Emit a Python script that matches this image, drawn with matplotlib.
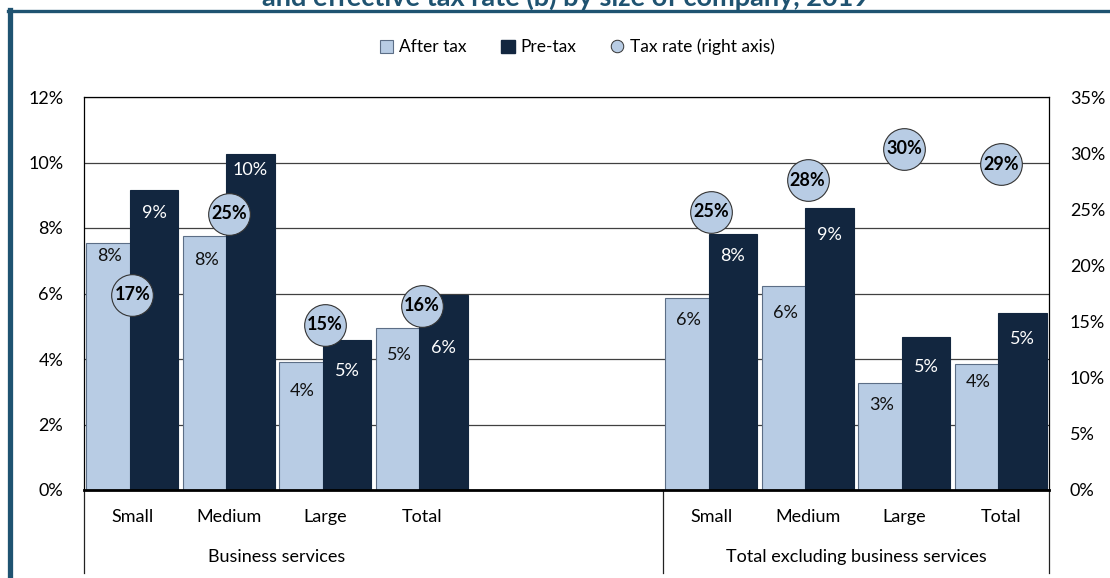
import matplotlib.pyplot as plt
import numpy as np
from matplotlib.lines import Line2D
from matplotlib.patches import Patch
from matplotlib.transforms import blended_transform_factory

plt.rcParams["font.family"] = ["Lato", "DejaVu Sans"]

# values
sizes = ["Small", "Medium", "Large", "Total"]
groups = ["Business services", "Total excluding business services"]
after_tax = [7.55, 7.75, 3.92, 4.96, 5.87, 6.24, 3.26, 3.84]
pre_tax = [9.15, 10.26, 4.58, 5.94, 7.81, 8.62, 4.67, 5.40]
tax_rate = [17.4, 24.6, 14.7, 16.4, 24.8, 27.6, 30.4, 29.0]

# label placement (pixels below bar top), picked to dodge the circles
after_offsets = [13, 24, 29, 27, 22, 27, 22, 18]
pre_offsets = [23, 16, 31, 53, 22, 27, 30, 26]

light = "#B8CCE4"
navy = "#12263F"
teal = "#1F5371"

W, H = 1110, 578
fig = plt.figure(figsize=(W / 100, H / 100), dpi=100)
ax = fig.add_axes([84 / W, 1 - 490 / H, (1049 - 84) / W, (490 - 97) / H])

# two groups of four slots with a two-slot gap between them
x = np.array([g * 6 + i for g in range(len(groups)) for i in range(len(sizes))])
bw = 0.505
ax.bar(x - 0.225, after_tax, width=bw, color=light, edgecolor="#5C6E86", linewidth=0.8, zorder=2)
ax.bar(x + 0.225, pre_tax, width=bw, color=navy, edgecolor=navy, linewidth=0.8, zorder=3)

for xi, v, off in zip(x, after_tax, after_offsets):
    ax.annotate(f"{v:.0f}%", (xi - 0.235, v), xytext=(0, -off), textcoords="offset pixels",
                ha="center", va="center", fontsize=13, color="#111111", zorder=4)
for xi, v, off in zip(x, pre_tax, pre_offsets):
    ax.annotate(f"{v:.0f}%", (xi + 0.225, v), xytext=(0, -off), textcoords="offset pixels",
                ha="center", va="center", fontsize=13, color="white", zorder=4)

ax.set_xlim(-0.5, 9.5)
ax.set_ylim(0, 12)
ax.set_yticks(np.arange(0, 13, 2))
ax.set_yticklabels([f"{t}%" for t in range(0, 13, 2)])
ax.set_xticks([])
ax.tick_params(axis="y", length=0, pad=15, labelsize=13)
ax.grid(axis="y", color="#404040", linewidth=0.9, zorder=0)
ax.set_axisbelow(True)
for side in ["top", "left", "right"]:
    ax.spines[side].set_linewidth(0.9)
ax.spines["bottom"].set_linewidth(2)
ax.spines["bottom"].set_zorder(5)

ax2 = ax.twinx()
ax2.set_ylim(0, 35)
ax2.set_yticks(np.arange(0, 36, 5))
ax2.set_yticklabels([f"{t}%" for t in range(0, 36, 5)])
ax2.tick_params(axis="y", length=0, pad=15, labelsize=13)
ax2.plot(x, tax_rate, linestyle="none", marker="o", markersize=30,
         markerfacecolor=light, markeredgecolor="#333333", markeredgewidth=0.8, zorder=5)
for xi, v in zip(x, tax_rate):
    ax2.text(xi, v, f"{v:.0f}%", ha="center", va="center", fontsize=13,
             fontweight="bold", color="black", zorder=6)
for s in ax2.spines.values():
    s.set_visible(False)

# two-level category axis below the plot
tr = blended_transform_factory(ax.transData, ax.transAxes)
for xi, name in zip(x, sizes * len(groups)):
    ax.text(xi, -0.069, name, transform=tr, ha="center", va="center", fontsize=13)
for g, name in enumerate(groups):
    ax.text(g * 6 + 1.5, -0.17, name, transform=tr, ha="center", va="center", fontsize=13)
for xs in [-0.5, 5.5, 9.5]:
    ax.plot([xs, xs], [0, -0.21], transform=tr, color="#222222", linewidth=0.9, clip_on=False)

handles = [
    Patch(facecolor=light, edgecolor="#5C6E86", linewidth=0.8),
    Patch(facecolor=navy, edgecolor=navy),
    Line2D([], [], linestyle="none", marker="o", markersize=9, markerfacecolor=light,
           markeredgecolor="#333333", markeredgewidth=0.7),
]
fig.legend(handles, ["After tax", "Pre-tax", "Tax rate (right axis)"], loc="center",
           bbox_to_anchor=(577 / W, 1 - 47 / H), ncol=3, frameon=False, fontsize=12.5,
           handlelength=0.8, handleheight=0.8, handletextpad=0.3, columnspacing=2.0)

# frame and clipped title from the source page
fig.add_artist(Line2D([8 / W, 1], [1 - 11 / H] * 2, color=teal, linewidth=2.4))
fig.add_artist(Line2D([10 / W] * 2, [0, 1 - 10 / H], color=teal, linewidth=3.8))
fig.text(566 / W, 1 - 6 / H, "and effective tax rate (b) by size of company, 2019",
         ha="center", va="baseline", fontsize=19.5, fontweight="bold", color=teal)

fig.savefig("out.png", dpi=100)
